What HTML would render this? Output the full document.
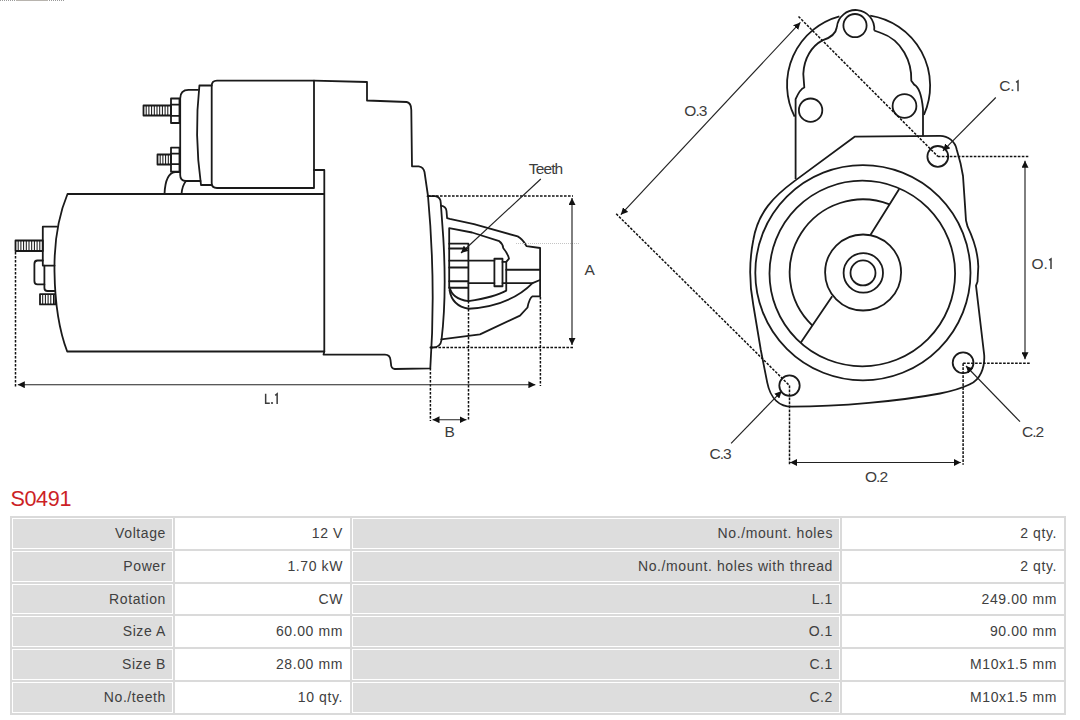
<!DOCTYPE html>
<html><head><meta charset="utf-8">
<style>
html,body{margin:0;padding:0;background:#fff;width:1080px;height:720px;overflow:hidden;}
body{position:relative;font-family:"Liberation Sans",sans-serif;}
svg{position:absolute;left:0;top:0;}
.title{position:absolute;left:10.4px;top:484.8px;font-size:21.6px;letter-spacing:-0.35px;color:#cc1f26;line-height:28px;}
.tbl{position:absolute;left:10px;top:516px;width:1056px;height:198.8px;background:#dadada;}
.c{position:absolute;box-sizing:border-box;height:30.8px;border:1px solid #fff;text-align:right;padding-right:6px;font-size:14px;line-height:29px;color:#404040;letter-spacing:0.6px;white-space:nowrap;}
.l{background:#dddddd;}
.v{background:#fff;}
</style></head><body>
<svg width="1080" height="500" viewBox="0 0 1080 500">
<defs>
<marker id="ah" viewBox="0 0 10 10" refX="10" refY="5" markerWidth="7" markerHeight="7" markerUnits="userSpaceOnUse" orient="auto-start-reverse"><path d="M0 0 L10 5 L0 10 z" fill="#111"/></marker>
</defs>
<path d="M0 0.5 H15.5 M49 0.5 H64" stroke="#9a9a9a" stroke-width="1" stroke-dasharray="1 1" fill="none"/>
<path d="M16 0.5 H48" stroke="#b8b4ae" stroke-width="1" fill="none"/>
<g fill="none" stroke="#1a1a1a" stroke-width="1.8" stroke-linejoin="round" stroke-linecap="round">
<!-- upper bolt -->
<rect x="143.5" y="105.5" width="27.5" height="10"/>
<rect x="171" y="98.5" width="8.5" height="24.5"/>
<path d="M171 104.7 H179.5 M171 115.8 H179.5"/>
<!-- lower bolt -->
<rect x="157.5" y="154.5" width="13.5" height="10"/>
<rect x="171" y="147.7" width="8.5" height="24"/>
<path d="M171 153.6 H179.5 M171 164.2 H179.5"/>
<!-- cap -->
<path d="M198 89.8 H188.5 Q180.2 89.8 180.2 98.5 V175 Q180.2 181 186 181 H200.5"/>
<!-- ring -->
<path d="M199.4 85.5 H211.7 M201 185 H211.7 M199.4 85.5 Q194 135 201 185"/>
<!-- solenoid -->
<path d="M314 80.7 H217 Q211.7 80.7 211.7 86 V183 Q211.7 188 217 188 H314 Z"/>
<!-- supports -->
<path d="M164.5 194 C165 182 168 173 175 172 L179.5 172 M181.5 194 C182 188 183.5 184 186 181"/>
<!-- motor -->
<path d="M324 194 H67.5 C60 212 54 240 54.5 272 C55 305 59 330 67.2 351.5 H324"/>
<path d="M314 170 H324.3 V351.5"/>
<!-- left details -->
<path d="M57 226.7 H42.8 V265.6 H54.5"/>
<rect x="15.5" y="240.5" width="27.3" height="10.5"/>
<path d="M44.4 265.6 V284.4 H37.5 Q34.4 284.4 34.4 281 V264 Q34.4 260.5 37.5 260.5 H42.8"/>
<path d="M44.4 284.4 V288 Q44.4 291 47.5 291 H54.5"/>
<rect x="40" y="294.2" width="15.2" height="10.2"/>
<!-- housing -->
<path d="M314 80.7 L367 82 V100.5 L406.7 102 Q411.3 103 411.3 110 L412 166.3 H418.7 Q423.5 167 424.5 172 L428 196 C432 240 435 300 430.3 368.3 L394.7 369 Q391 368.5 391 364 L390.5 360 Q390 354.6 385 354.6 H323.5 L324.3 351.5"/>
<!-- flange -->
<path d="M427.5 196.2 H435.3 Q440.8 197 440.8 203.3 L443.3 238 C445.5 275 444.5 315 441.5 340 Q440.5 347.3 433 347.5 H430.4"/>
<!-- bump + outer pinion housing -->
<path d="M441 205.7 Q446 206.5 446.5 211 L447.1 218.2 L449.7 218.9 L474 224.2 L517.7 236.4 Q522.6 239 526.5 246.1 L540.1 248 V296.3 H532.5 Q529.4 298 527.5 307.5 L520 315.6 L480 334.4 L441.25 339.4"/>
<!-- inner pinion housing -->
<path d="M449.2 288 V228.1 L472.1 232.5 L499.3 241.2 Q503 244 503.2 248 Q508 253.9 509 258.7 L506.25 261.9 V290.6 Q495 297 468.4 301.2 Q452 299 449.5 287"/>
<path d="M449.5 290 Q452 306 468.75 308.75 Q510 306 532.5 283.1 L540 280"/>
<!-- pinion -->
<path d="M449.2 243.7 H468.4 V301 M449.2 248.5 H468.4 M449.2 260.7 H468.4 M449.2 267.5 H468.4 M449.2 281.25 H468.4 M449.2 287.75 H468.4"/>
<path d="M468.4 260.6 H494.4 M468.4 283.1 H494.4"/>
<rect x="494.4" y="258.75" width="8.1" height="27.5"/>
<path d="M502.5 261.9 H506.25 M502.5 283.1 H506.25"/>
<path d="M506.25 269.75 H540 M506.25 283.1 H532.5"/>
</g>
<!-- thread stripes -->
<g stroke="#111" stroke-width="1">
<path d="M146.2 106 V115 M148.9 106 V115 M151.6 106 V115 M154.3 106 V115 M157 106 V115 M159.7 106 V115 M162.4 106 V115 M165.1 106 V115 M167.8 106 V115"/>
<path d="M160.2 155 V164 M162.9 155 V164 M165.6 155 V164 M168.3 155 V164"/>
<path d="M18.2 241 V250.5 M20.9 241 V250.5 M23.6 241 V250.5 M26.3 241 V250.5 M29 241 V250.5 M31.7 241 V250.5 M34.4 241 V250.5 M37.1 241 V250.5 M39.8 241 V250.5"/>
<path d="M42.7 295 V304 M45.4 295 V304 M48.1 295 V304 M50.8 295 V304 M53.5 295 V304"/>
</g>
<!-- dotted extension lines -->
<g fill="none" stroke="#111" stroke-width="1.5" stroke-dasharray="2.6 1.4">
<path d="M15.5 252 V386.5"/>
<path d="M540.4 297 V386"/>
<path d="M428 195.9 H573"/>
<path d="M430.4 347.5 H573"/>
<path d="M430.4 368 V421"/>
<path d="M468.5 301 V421"/>
</g>
<path d="M516 243.5 H580" stroke="#c4c4c4" stroke-width="1" stroke-dasharray="1 1"/>
<!-- dimension lines -->
<g fill="none" stroke="#222" stroke-width="1.15">
<path d="M17.8 384.7 H535.4" marker-start="url(#ah)" marker-end="url(#ah)"/>
<path d="M572 198 V345" marker-start="url(#ah)" marker-end="url(#ah)"/>
<path d="M432.5 419.7 H466.5" marker-start="url(#ah)" marker-end="url(#ah)"/>
<path d="M540.8 179 L461 253" marker-end="url(#ah)"/>
</g>
<!-- ======= FRONT VIEW ======= -->
<g fill="none" stroke="#1a1a1a" stroke-width="1.8" stroke-linejoin="round">
<!-- outer arc -->
<path d="M839.4 16.3 A71 71 0 0 0 794.6 116.7 M870.2 15.6 A71 71 0 0 1 923.9 114.8"/>
<!-- top lobe -->
<path d="M836.9 27 A18.6 18.6 0 1 1 874.2 30.5"/>
<!-- inner window -->
<path d="M836.9 27 C836 33 830 38 822.4 40.4 C812 46 804 58 803.3 73.9 L804.3 87.5 Q800 89 795.6 99.2 V179"/>
<path d="M874.2 30.5 L881.1 33 C902 40 912 62 911.3 80.7 L914.2 84.6 Q921 88 923 109 V136.2"/>
<circle cx="855" cy="25.6" r="11.6"/>
<circle cx="810.6" cy="110.2" r="11.7"/>
<circle cx="904.5" cy="106" r="11.9"/>
<!-- flange -->
<path d="M854.6 136.7 L940 135.8 A17 17 0 0 1 956.7 149.5 L960.5 163.2 L963 176 L964.6 199.4 L966 220.6 L967.6 226.7 C974 240 978 255 978.3 266.5 L977.5 281.7 L976 285.6 L984.2 355 C985 368 980 380 970 384.2 C962 388 952 391 940 393.5 C900 401 840 406.7 791.9 406.7 C780 406.7 770.5 399 767.2 382.4 L760.8 350 L753.3 305 C749.5 285 749 262 753.3 240 C758 212 774.3 195.9 794.4 181.1 Z"/>
<circle cx="937.8" cy="156.4" r="10.4"/>
<circle cx="789.5" cy="385.6" r="10.2"/>
<circle cx="963.1" cy="362.7" r="10.4"/>
<!-- concentric -->
<circle cx="862.9" cy="272.7" r="107.6"/>
<circle cx="862.3" cy="273.5" r="92.8"/>
<path d="M889.5 204.4 A73.2 73.2 0 0 0 812.4 325.6"/>
<path d="M899.2 188.9 L870.4 234.9 M832.2 296.2 L800.7 342.8"/>
<circle cx="863.1" cy="272.5" r="38"/>
<circle cx="863.3" cy="272.9" r="19.7"/>
<circle cx="863" cy="272.9" r="12.5"/>
</g>
<g fill="none" stroke="#111" stroke-width="1.5" stroke-dasharray="2.6 1.4">
<path d="M798.5 16.5 L937.8 156.4"/>
<path d="M616.2 213.8 L789.5 385.6"/>
<path d="M937.8 156.4 H1028.3"/>
<path d="M963.1 363.3 H1030"/>
<path d="M789.5 385.6 V464.7"/>
<path d="M963.1 363.3 V464.7"/>
</g>
<g fill="none" stroke="#222" stroke-width="1.15">
<path d="M620.8 214.7 L800.4 22.4" marker-start="url(#ah)" marker-end="url(#ah)"/>
<path d="M1025 160.8 V359.3" marker-start="url(#ah)" marker-end="url(#ah)"/>
<path d="M790 462.5 H960.8" marker-start="url(#ah)" marker-end="url(#ah)"/>
<path d="M995.8 97.5 L942.9 150.8" marker-end="url(#ah)"/>
<path d="M1020 421.7 L966 366" marker-end="url(#ah)"/>
<path d="M731.1 443.3 L781.7 391.1" marker-end="url(#ah)"/>
</g>
<g style="font-family:'Liberation Sans',sans-serif;font-size:15.5px;letter-spacing:-0.9px" fill="#3c3c3c">
<text x="528.85" y="173.9">Teeth</text>
<text x="584.5" y="274.5">A</text>
<text x="444.4" y="436.8">B</text>
<text x="999.2" y="91.2">C</text><text x="1010.3" y="91.2">.</text>
<text x="1031.5" y="269">O</text><text x="1043.4" y="269">.</text>
<text x="1021.9" y="437">C.2</text>
<text x="709.4" y="459">C.3</text>
<text x="864.9" y="482">O.2</text>
<text x="684.3" y="115.5">O.3</text>
</g>
<g fill="none" stroke="#3c3c3c" stroke-width="1.5">
<path d="M265.65 393.7 V403.35 H269.8 M275.2 395.3 L277.15 393.8 V404.1"/>
<circle cx="272" cy="403" r="1.1" fill="#3c3c3c" stroke="none"/>
<path d="M1016.1 82.3 L1018 80.9 V91.2"/>
<path d="M1049.1 260.2 L1051 258.9 V269"/>
</g>
</svg>
<div class="title">S0491</div>
<div class="tbl">
<div class="c l" style="left:2px;top:2.0px;width:161px">Voltage</div>
<div class="c v" style="left:165px;top:2.0px;width:175px">12 V</div>
<div class="c l" style="left:342px;top:2.0px;width:488px">No./mount. holes</div>
<div class="c v" style="left:832px;top:2.0px;width:222px">2 qty.</div>
<div class="c l" style="left:2px;top:34.8px;width:161px">Power</div>
<div class="c v" style="left:165px;top:34.8px;width:175px">1.70 kW</div>
<div class="c l" style="left:342px;top:34.8px;width:488px">No./mount. holes with thread</div>
<div class="c v" style="left:832px;top:34.8px;width:222px">2 qty.</div>
<div class="c l" style="left:2px;top:67.6px;width:161px">Rotation</div>
<div class="c v" style="left:165px;top:67.6px;width:175px">CW</div>
<div class="c l" style="left:342px;top:67.6px;width:488px">L.1</div>
<div class="c v" style="left:832px;top:67.6px;width:222px">249.00 mm</div>
<div class="c l" style="left:2px;top:100.4px;width:161px">Size A</div>
<div class="c v" style="left:165px;top:100.4px;width:175px">60.00 mm</div>
<div class="c l" style="left:342px;top:100.4px;width:488px">O.1</div>
<div class="c v" style="left:832px;top:100.4px;width:222px">90.00 mm</div>
<div class="c l" style="left:2px;top:133.2px;width:161px">Size B</div>
<div class="c v" style="left:165px;top:133.2px;width:175px">28.00 mm</div>
<div class="c l" style="left:342px;top:133.2px;width:488px">C.1</div>
<div class="c v" style="left:832px;top:133.2px;width:222px">M10x1.5 mm</div>
<div class="c l" style="left:2px;top:166.0px;width:161px">No./teeth</div>
<div class="c v" style="left:165px;top:166.0px;width:175px">10 qty.</div>
<div class="c l" style="left:342px;top:166.0px;width:488px">C.2</div>
<div class="c v" style="left:832px;top:166.0px;width:222px">M10x1.5 mm</div>
</div>
</body></html>
